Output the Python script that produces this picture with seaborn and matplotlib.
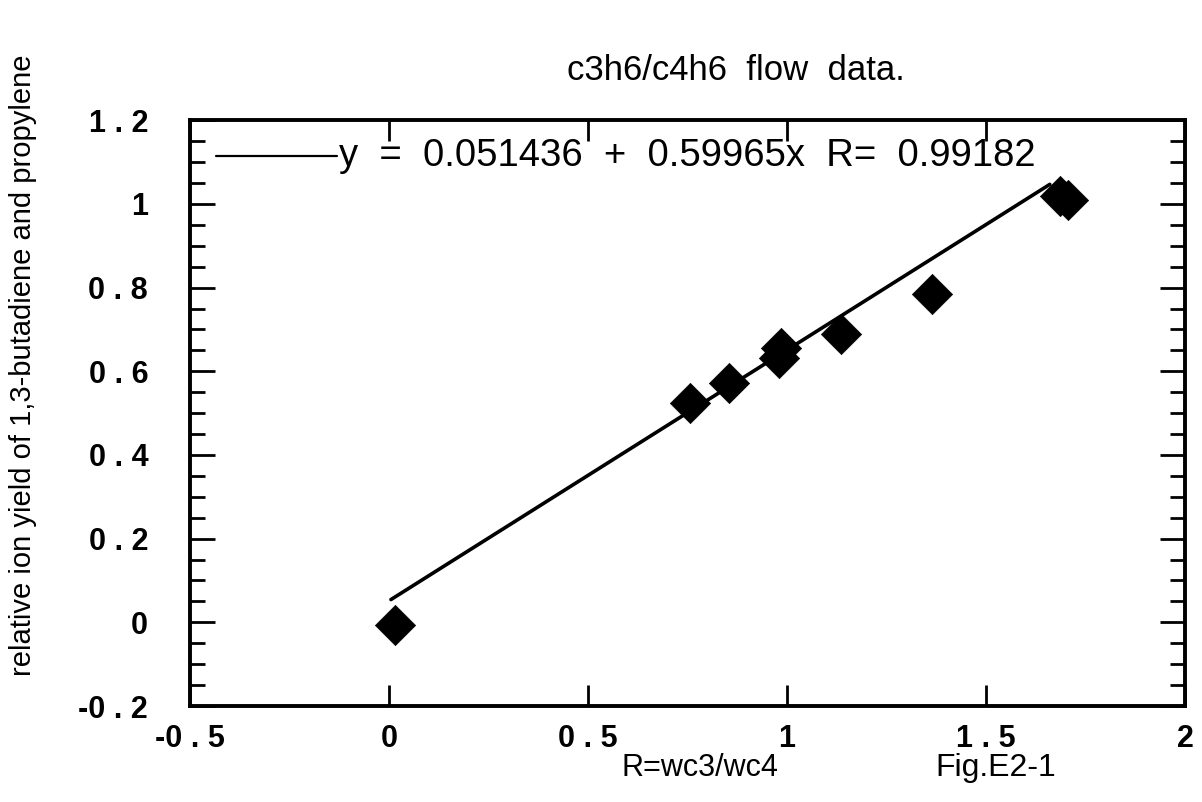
import matplotlib
matplotlib.use("Agg")
import matplotlib.pyplot as plt
import seaborn as sns
import numpy as np
import pandas as pd
from matplotlib.ticker import MultipleLocator

# data
ratio_x = [0.015, 0.755, 0.855, 0.98, 0.985, 1.135, 1.365, 1.685, 1.705]
ion_yield = [-0.007, 0.524, 0.571, 0.632, 0.655, 0.690, 0.785, 1.020, 1.010]
fit_intercept = 0.051436
fit_slope = 0.59965
fit_r = 0.99182
fit_range = [0.005, 1.66]
xtick_vals = [-0.5, 0, 0.5, 1, 1.5, 2]
xtick_labels = ["-0 . 5", "0", "0 . 5", "1", "1 . 5", "2"]
ytick_vals = [-0.2, 0, 0.2, 0.4, 0.6, 0.8, 1, 1.2]
ytick_labels = ["-0 . 2", "0", "0 . 2", "0 . 4", "0 . 6", "0 . 8", "1", "1 . 2"]

sns.set_theme(style="ticks")
plt.rcParams['font.family'] = ['Liberation Sans', 'DejaVu Sans']
plt.rcParams['text.color'] = 'black'
plt.rcParams['xtick.color'] = 'black'
plt.rcParams['ytick.color'] = 'black'

fig = plt.figure(figsize=(12.02, 8.02), dpi=100)
ax = fig.add_axes([0.158, 0.1197, 0.828, 0.7303])

df = pd.DataFrame({"x": ratio_x, "y": ion_yield})
fx = np.array(fit_range)
fit_df = pd.DataFrame({"x": fx, "y": fit_intercept + fit_slope * fx})

sns.lineplot(data=fit_df, x="x", y="y", ax=ax, color="black", linewidth=2.6)
sns.scatterplot(data=df, x="x", y="y", ax=ax, marker="D", s=420,
                color="black", edgecolor="black", linewidth=0.5, zorder=3)

ax.set_xlim(-0.5, 2)
ax.set_ylim(-0.2, 1.2)
ax.set_xticks(xtick_vals)
ax.set_xticklabels(xtick_labels, fontsize=22, fontweight="bold")
ax.set_yticks(ytick_vals)
ax.set_yticklabels(ytick_labels, fontsize=22, fontweight="bold")
ax.yaxis.set_minor_locator(MultipleLocator(0.05))
ax.tick_params(axis="x", which="major", direction="in", length=15, width=2,
               top=True, pad=13)
ax.tick_params(axis="y", which="major", direction="in", length=18, width=2,
               right=True, pad=30)
ax.tick_params(axis="y", which="minor", direction="in", length=11, width=2,
               right=True)
for sp in ax.spines.values():
    sp.set_visible(True)
    sp.set_linewidth(2.8)
    sp.set_color("black")

ax.set_xlabel("")
ax.set_ylabel("")

# legend-like equation line
ax.plot([-0.435, -0.13], [1.115, 1.115], color="black", linewidth=1.6)
ax.text(-0.125, 1.115, f"y  =  {fit_intercept}  +  {fit_slope}x  R=  {fit_r}",
        fontsize=27.5, va="center", ha="left")

fig.text(0.612, 0.912, "c3h6/c4h6  flow  data.", fontsize=25, ha="center", va="center")
fig.text(0.582, 0.043, "R=wc3/wc4", fontsize=22, ha="center", va="center")
fig.text(0.828, 0.043, "Fig.E2-1", fontsize=23, ha="center", va="center")
fig.text(0.019, 0.545, "relative ion yield of 1,3-butadiene and propylene",
         fontsize=21, rotation=90, ha="center", va="center")

fig.savefig("out.png", dpi=100, facecolor="white")
